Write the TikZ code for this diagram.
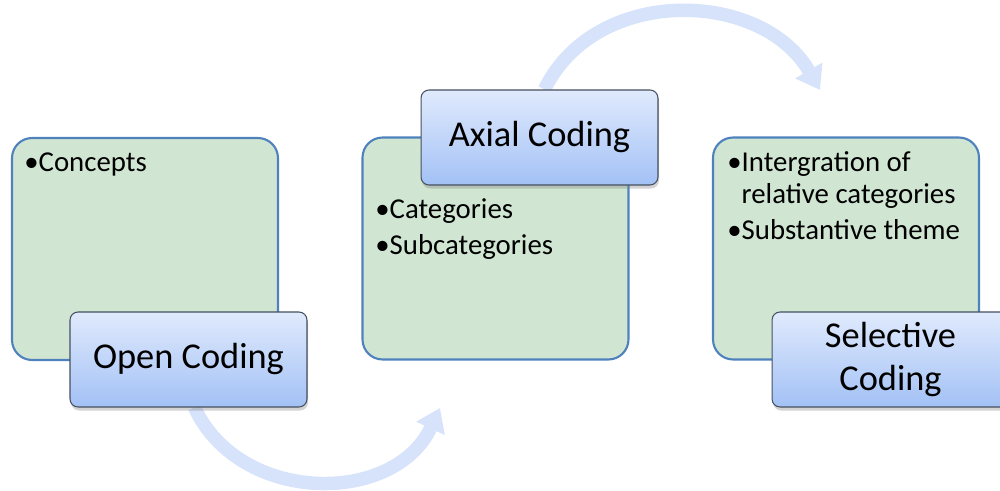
\documentclass[tikz,border=0pt]{standalone}
\usepackage{fontspec}
\setmainfont{Carlito}
\usetikzlibrary{arrows.meta,shadows,backgrounds}
\definecolor{boxgreen}{RGB}{208,230,211}
\definecolor{boxline}{RGB}{79,129,189}
\definecolor{headtop}{RGB}{224,234,253}
\definecolor{headbot}{RGB}{163,193,245}
\definecolor{headline}{RGB}{70,80,95}
\definecolor{flowblue}{RGB}{214,227,250}
\tikzset{
	stage/.style={draw=boxline, line width=1.2pt, fill=boxgreen, rounded corners=0.4cm, minimum width=5.32cm, minimum height=4.44cm},
	heading/.style={draw=headline, line width=0.6pt, top color=headtop, bottom color=headbot, rounded corners=0.16cm, minimum width=4.74cm, minimum height=1.9cm, align=center, font=\fontsize{20.7}{24}\selectfont, drop shadow={shadow xshift=0.6pt, shadow yshift=-2pt, opacity=0.35}},
	items/.style={anchor=base west, inner sep=0pt, align=left, font=\fontsize{16.4}{18}\selectfont},
	flow/.style={flowblue, line width=0.27cm, -{Triangle[width=0.6cm,length=0.45cm]}}
}
\begin{document}
\begin{tikzpicture}[x=0.02cm, y=0.02cm]
		\useasboundingbox (0,0) rectangle (1000,490);
		% the three stages (text nodes sit on their last line)
		\node[stage] (open box) at (145,241) {};
		\node[stage] (axial box) at (495.5,241.5) {};
		\node[stage] (select box) at (846,241.5) {};
		\node[items] (open items) at (24,318) {\textbullet Concepts};
		\node[items] (axial items) at (375,235) {\textbullet Categories\\[3pt]\textbullet Subcategories};
		\node[items] (select items) at (727,250) {\textbullet Intergration of\\\phantom{\textbullet}relative categories\\[3pt]\textbullet Substantive theme};
		\node[heading] (open) at (188.5,130.5) {Open Coding};
		\node[heading] (axial) at (539.5,352.5) {Axial Coding};
		\node[heading] (select) at (890.5,130.5) {Selective\\Coding};
		% arrows from stage to stage
		\coordinate (tip1) at (440,82);
		\coordinate (tip2) at (820,400);
		\begin{scope}[on background layer]
			\draw[flow] ([xshift=2.5cm]open.south west) to[out=-65, in=-115, looseness=1.12] (tip1);
			\draw[flow] ([xshift=2.48cm]axial.north west) to[out=64, in=120, looseness=1.08] (tip2);
		\end{scope}
	\end{tikzpicture}
\end{document}
